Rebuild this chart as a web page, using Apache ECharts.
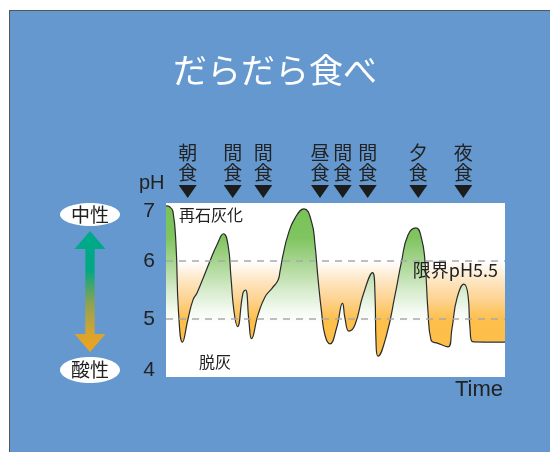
<!DOCTYPE html>
<html>
<head>
<meta charset="utf-8">
<script src="https://cdn.jsdelivr.net/npm/echarts@6/dist/echarts.min.js"></script>
<style>
  html, body { margin: 0; padding: 0; background: #fff; overflow: hidden; }
  #panel { position: absolute; left: 9px; top: 10px; width: 560px; height: 460px; background: #6598cf; border: 1px solid #555; }
  #main { position: absolute; left: 0; top: 0; width: 550px; height: 452px; }
</style>
</head>
<body>
<div id="panel"></div>
<div id="main"></div>
<script>
// time (arbitrary units along the day) and plaque pH
const times = [0, 4, 7, 10, 12.5, 16.5, 22, 27, 31, 37, 44, 51, 57.5, 62, 65, 68, 71.5, 77, 79.5, 83, 85.5,
  92, 99, 106, 112, 114, 117, 122, 129, 138, 145.5, 149, 152, 155.5, 159, 164, 170.5, 176.5, 179, 183, 189,
  197, 206.5, 209, 210, 212, 220.5, 229, 235.5, 242, 250, 255.5, 259, 262, 265, 272, 282, 286, 291, 298,
  302, 304, 306.5, 339]
const ph = [6.95, 6.93, 6.85, 6.28, 5.13, 4.6, 5.0, 5.33, 5.45, 5.7, 6.0, 6.28, 6.47, 6.28, 5.71, 5.13, 4.87, 5.45, 5.5, 4.95, 4.66,
  5.07, 5.38, 5.53, 5.67, 5.82, 6.1, 6.45, 6.74, 6.9, 6.68, 6.28, 5.7, 5.13, 4.72, 4.57, 4.84, 5.27, 5.01, 4.79, 4.9,
  5.41, 5.8, 5.41, 4.61, 4.36, 4.72, 5.41, 5.99, 6.45, 6.57, 6.39, 5.99, 5.13, 4.64, 4.58, 4.52, 4.84, 5.36, 5.6,
  5.41, 4.84, 4.61, 4.6]

const mealTimes = [21.7, 66.7, 97.3, 154, 176.7, 201.7, 252.3, 297.3]
const mealNames = ['朝食', '間食', '間食', '昼食', '間食', '間食', '夕食', '夜食']

const phTicks = [4, 5, 6, 7]
const limitLines = [6, 5]

const curve = times.map((t, i) => [t, ph[i]])

const cjk = '"Noto Sans CJK JP", sans-serif'
const latin = '"Liberation Sans", Arial, sans-serif'

// gradients in pixel space of the plot (top=203, bottom=377)
const greenFill = new echarts.graphic.LinearGradient(0, 203, 0, 377, [
  { offset: 0, color: '#78c257' },
  { offset: 0.2, color: '#80c560' },
  { offset: 0.33, color: '#a5d48d' },
  { offset: 0.5, color: '#d6ebcc' },
  { offset: 0.63, color: '#f6fbf4' },
  { offset: 0.7, color: '#ffffff' },
  { offset: 1, color: '#ffffff' }
], true)
const orangeFill = new echarts.graphic.LinearGradient(0, 203, 0, 377, [
  { offset: 0, color: '#ffffff' },
  { offset: 0.333, color: '#ffffff' },
  { offset: 0.45, color: '#fde5c0' },
  { offset: 0.56, color: '#fdd28e' },
  { offset: 0.667, color: '#fdc04c' },
  { offset: 1, color: '#fdbe45' }
], true)

const chart = echarts.init(document.getElementById('main'))
chart.setOption({
  backgroundColor: 'transparent',
  animation: false,
  title: {
    text: 'だらだら食べ',
    left: 'center',
    top: 48,
    textStyle: { color: '#fff', fontSize: 34, fontWeight: 'normal', fontFamily: cjk }
  },
  grid: {
    left: 166, top: 203, right: 45, bottom: 75,
    show: true, backgroundColor: '#fff', borderWidth: 0
  },
  xAxis: {
    type: 'value', min: 0, max: 339,
    show: false
  },
  yAxis: {
    type: 'value', min: phTicks[0], max: phTicks[phTicks.length - 1], interval: 1,
    axisLine: { show: false },
    axisTick: { show: false },
    splitLine: { show: false },
    axisLabel: {
      margin: 11,
      color: '#222',
      fontSize: 21,
      fontFamily: latin,
      formatter: v => v === 7 ? '{top|7}' : v === 4 ? '{bot|4}' : '{mid|' + v + '}',
      rich: {
        top: { fontSize: 21, fontFamily: latin, color: '#222', padding: [16, 0, 0, 0] },
        bot: { fontSize: 21, fontFamily: latin, color: '#222', padding: [0, 0, 13, 0] },
        mid: { fontSize: 21, fontFamily: latin, color: '#222' }
      }
    }
  },
  series: [
    {
      type: 'line',
      data: curve,
      smooth: 0.5,
      showSymbol: false,
      lineStyle: { width: 0 },
      areaStyle: { origin: 'end', color: orangeFill, opacity: 1 },
      silent: true
    },
    {
      type: 'line',
      data: curve,
      smooth: 0.5,
      showSymbol: false,
      lineStyle: { width: 1.2, color: '#2a2a2a' },
      areaStyle: { origin: 'start', color: greenFill, opacity: 1 },
      silent: true,
      markLine: {
        silent: true,
        symbol: 'none',
        label: { show: false },
        lineStyle: { color: '#a9a9a9', type: [7, 6], width: 1.5 },
        data: limitLines.map(v => ({ yAxis: v }))
      },
      markPoint: {
        silent: true,
        symbol: 'path://M0,0 L18,0 L9,13 Z',
        symbolSize: [18, 13],
        symbolOffset: [0, -11.5],
        itemStyle: { color: '#1c1c1c' },
        label: {
          show: true,
          position: 'top',
          distance: 2,
          color: '#222',
          fontSize: 19,
          lineHeight: 20,
          fontFamily: cjk,
          formatter: p => p.name.split('').join('\n')
        },
        data: mealTimes.map((t, i) => ({ name: mealNames[i], coord: [t, 7] }))
      }
    }
  ],
  graphic: [
    { type: 'text', z: 100, left: 139, top: 173, style: { text: 'pH', fill: '#222', font: '20px ' + latin } },
    { type: 'text', z: 100, left: 455, top: 379, style: { text: 'Time', fill: '#222', font: '22px ' + latin } },
    { type: 'text', z: 100, left: 179, top: 207, style: { text: '再石灰化', fill: '#222', font: '16px ' + cjk } },
    { type: 'text', z: 100, left: 199, top: 354, style: { text: '脱灰', fill: '#222', font: '16px ' + cjk } },
    { type: 'text', z: 100, right: 52, top: 261, style: { text: '限界pH5.5', fill: '#222', font: '18px ' + cjk } },
    { type: 'ellipse', shape: { cx: 90, cy: 214.5, rx: 30, ry: 11.5 }, style: { fill: '#fff' } },
    { type: 'ellipse', shape: { cx: 90, cy: 370, rx: 30, ry: 13 }, style: { fill: '#fff' } },
    { type: 'text', x: 90, y: 214.5, style: { text: '中性', fill: '#222', font: '19px ' + cjk, align: 'center', verticalAlign: 'middle' } },
    { type: 'text', x: 90, y: 370, style: { text: '酸性', fill: '#222', font: '19px ' + cjk, align: 'center', verticalAlign: 'middle' } },
    {
      type: 'polygon',
      shape: {
        points: [[90, 231], [105.5, 249], [94.7, 249], [94.7, 334], [105.5, 334], [90, 352],
          [74.5, 334], [85.3, 334], [85.3, 249], [74.5, 249]]
      },
      style: {
        fill: new echarts.graphic.LinearGradient(0, 0, 0, 1, [
          { offset: 0, color: '#00a98a' },
          { offset: 0.33, color: '#03a882' },
          { offset: 0.6, color: '#8fa352' },
          { offset: 0.85, color: '#d9a42e' },
          { offset: 1, color: '#eda41e' }
        ])
      }
    }
  ]
})
</script>
</body>
</html>
